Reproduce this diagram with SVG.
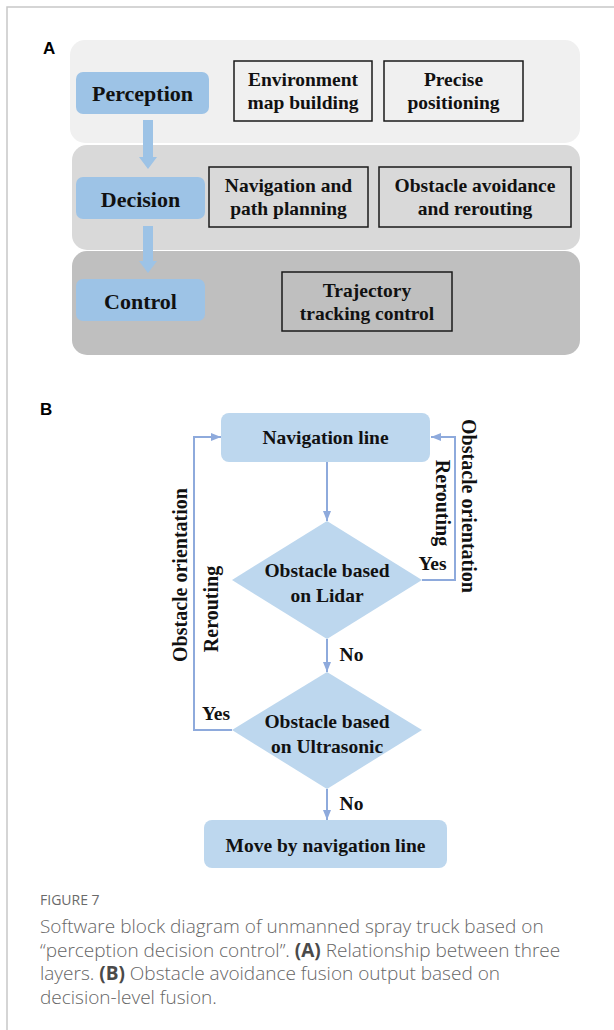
<svg xmlns="http://www.w3.org/2000/svg" width="614" height="1030" viewBox="0 0 614 1030">
  <defs>
    <style>
      .frame { fill: none; stroke: #c8c8c8; stroke-width: 1.5; }
      .panel-label { font-family: "Liberation Sans", Arial, sans-serif; font-weight: bold; font-size: 17px; fill: #000; }
      .layer-tag { fill: #9dc3e6; }
      .tag-text { font-family: "Liberation Serif", "Times New Roman", serif; font-weight: bold; font-size: 22px; fill: #111; text-anchor: middle; }
      .task { fill: none; stroke: #1a1a1a; stroke-width: 1.5; }
      .task-text { font-family: "Liberation Serif", "Times New Roman", serif; font-weight: bold; font-size: 19.5px; fill: #111; text-anchor: middle; }
      .flow-shape { fill: #bdd7ee; }
      .flow-text { font-family: "Liberation Serif", "Times New Roman", serif; font-weight: bold; font-size: 19.5px; fill: #111; text-anchor: middle; }
      .side-text { font-family: "Liberation Serif", "Times New Roman", serif; font-weight: bold; font-size: 20px; fill: #111; text-anchor: middle; dominant-baseline: central; }
      .link { fill: none; stroke: #8eaadc; stroke-width: 2; }
      .cap-title { font-family: "Open Sans", "Liberation Sans", sans-serif; font-size: 14px; fill: #6a6a6a; }
      .cap { font-family: "Open Sans", "Liberation Sans", sans-serif; font-weight: 300; font-size: 19px; fill: #666666; }
      .cap-em { font-weight: bold; fill: #4a4a4a; }
    </style>
    <marker id="head" markerUnits="userSpaceOnUse" markerWidth="10" markerHeight="10" refX="10" refY="5" orient="auto">
      <path d="M0,1 L10,5 L0,9 z" fill="#8eaadc"/>
    </marker>
  </defs>

  <rect width="614" height="1030" fill="#ffffff"/>
  <path class="frame" d="M7,1030 V7 H614"/>

  <!-- Panel A: three layers -->
  <text class="panel-label" x="43" y="54">A</text>

  <g id="layer-perception">
    <rect x="70" y="40" width="510" height="103" rx="15" fill="#f0f0f0"/>
  </g>
  <g id="layer-decision">
    <rect x="72" y="145" width="508" height="105" rx="15" fill="#d9d9d9"/>
  </g>
  <g id="layer-control">
    <rect x="72" y="251" width="508" height="104" rx="15" fill="#bfbfbf"/>
  </g>

  <!-- layer flow arrows -->
  <g id="layer-arrows" fill="#9dc3e6">
    <polygon points="143,120 153,120 153,157 157,157 148,169 139,157 143,157"/>
    <polygon points="143,226 153,226 153,261 157,261 148,273 139,261 143,261"/>
  </g>

  <g id="tag-perception">
    <rect class="layer-tag" x="76" y="72" width="133" height="42" rx="7"/>
    <text class="tag-text" x="142.5" y="101">Perception</text>
  </g>
  <g id="tag-decision">
    <rect class="layer-tag" x="76" y="177" width="129" height="42" rx="7"/>
    <text class="tag-text" x="140.5" y="207">Decision</text>
  </g>
  <g id="tag-control">
    <rect class="layer-tag" x="76" y="279" width="129" height="42" rx="7"/>
    <text class="tag-text" x="140.5" y="309">Control</text>
  </g>

  <g id="task-env-map">
    <rect class="task" x="234" y="61" width="138" height="60"/>
    <text class="task-text" x="303" y="86">Environment</text>
    <text class="task-text" x="303" y="109">map building</text>
  </g>
  <g id="task-positioning">
    <rect class="task" x="384" y="61" width="139" height="60"/>
    <text class="task-text" x="453.5" y="86">Precise</text>
    <text class="task-text" x="453.5" y="109">positioning</text>
  </g>
  <g id="task-navigation">
    <rect class="task" x="209" y="167" width="159" height="60"/>
    <text class="task-text" x="288.5" y="192">Navigation and</text>
    <text class="task-text" x="288.5" y="215">path planning</text>
  </g>
  <g id="task-avoidance">
    <rect class="task" x="379" y="167" width="192" height="60"/>
    <text class="task-text" x="475" y="192">Obstacle avoidance</text>
    <text class="task-text" x="475" y="215">and rerouting</text>
  </g>
  <g id="task-trajectory">
    <rect class="task" x="282" y="272" width="170" height="59"/>
    <text class="task-text" x="367" y="296.5">Trajectory</text>
    <text class="task-text" x="367" y="319.5">tracking control</text>
  </g>

  <!-- Panel B: obstacle avoidance flow -->
  <text class="panel-label" x="40" y="415">B</text>

  <g id="connectors">
    <path class="link" d="M327,462 V521" marker-end="url(#head)"/>
    <path class="link" d="M327,639 V672" marker-end="url(#head)"/>
    <path class="link" d="M327,789 V820" marker-end="url(#head)"/>
    <path class="link" d="M422,580 H455 V437 H431" marker-end="url(#head)"/>
    <path class="link" d="M232,730 H194 V437 H221" marker-end="url(#head)"/>
    <text class="flow-text" x="351.5" y="661">No</text>
    <text class="flow-text" x="351.5" y="810">No</text>
    <text class="flow-text" x="432.5" y="570">Yes</text>
    <text class="flow-text" x="216" y="720">Yes</text>
    <text class="side-text" transform="translate(469,506) rotate(90)">Obstacle orientation</text>
    <text class="side-text" transform="translate(443,503) rotate(90)">Rerouting</text>
    <text class="side-text" transform="translate(180,575) rotate(-90)">Obstacle orientation</text>
    <text class="side-text" transform="translate(211,609) rotate(-90)">Rerouting</text>
  </g>

  <g id="navigation-line">
    <rect class="flow-shape" x="221" y="413" width="209" height="49" rx="8"/>
    <text class="flow-text" x="325.5" y="444">Navigation line</text>
  </g>
  <g id="check-lidar">
    <polygon class="flow-shape" points="327,521 422,580 327,639 232,580"/>
    <text class="flow-text" x="327" y="577">Obstacle based</text>
    <text class="flow-text" x="327" y="602">on Lidar</text>
  </g>
  <g id="check-ultrasonic">
    <polygon class="flow-shape" points="327,672 422,730 327,789 232,730"/>
    <text class="flow-text" x="327" y="728">Obstacle based</text>
    <text class="flow-text" x="327" y="753">on Ultrasonic</text>
  </g>
  <g id="move-by-line">
    <rect class="flow-shape" x="204" y="820" width="243" height="48" rx="8"/>
    <text class="flow-text" x="325.5" y="852">Move by navigation line</text>
  </g>

  <!-- caption -->
  <text class="cap-title" x="40" y="905">FIGURE 7</text>
  <text class="cap" x="40" y="933">Software block diagram of unmanned spray truck based on</text>
  <text class="cap" x="40" y="956.5">“perception decision control”. <tspan class="cap-em">(A)</tspan> Relationship between three</text>
  <text class="cap" x="40" y="980">layers. <tspan class="cap-em">(B)</tspan> Obstacle avoidance fusion output based on</text>
  <text class="cap" x="40" y="1003.5">decision-level fusion.</text>
</svg>
